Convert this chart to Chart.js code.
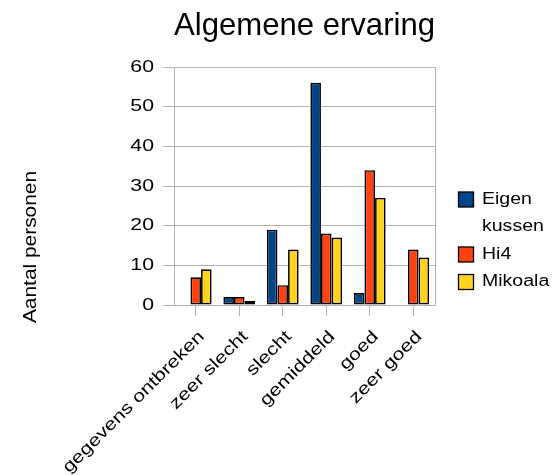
<!DOCTYPE html>
<html>
<head>
<meta charset="utf-8">
<script src="https://cdn.jsdelivr.net/npm/chart.js@4/dist/chart.umd.min.js"></script>
<style>
  html, body { margin: 0; padding: 0; background: #ffffff; }
  #wrap { width: 555px; height: 475px; }
</style>
</head>
<body>
<div id="wrap"><canvas id="chart" width="555" height="475"></canvas></div>
<script>
// Survey answers: overall experience per pillow
const categories = ['gegevens ontbreken', 'zeer slecht', 'slecht', 'gemiddeld', 'goed', 'zeer goed'];
const eigenKussen = [0, 2, 19, 56, 3, 0];
const hi4 = [7, 2, 5, 18, 34, 14];
const mikoala = [9, 1, 14, 17, 27, 12];
const seriesNames = ['Eigen kussen', 'Hi4', 'Mikoala'];
const legendLines = [['Eigen', 'kussen'], ['Hi4'], ['Mikoala']];
const yMin = 0, yMax = 60, yStep = 10;
const chartTitle = 'Algemene ervaring';
const yTitle = 'Aantal personen';

const colors = ['#004586', '#ff420e', '#ffd320'];
const GRID = '#b3b3b3';
const FONT = '"Liberation Sans", Arial, Helvetica, sans-serif';

// Draws text widened along its own direction
function wideText(ctx, text, x, y, angle, stretch, align) {
  ctx.save();
  ctx.translate(x, y);
  ctx.rotate(angle);
  ctx.scale(stretch, 1);
  ctx.textAlign = align;
  ctx.textBaseline = 'middle';
  ctx.fillText(text, 0, 0);
  ctx.restore();
}

// Right-hand frame line of the plot area
const plotFrame = {
  id: 'plotFrame',
  beforeDatasetsDraw(chart) {
    const { ctx, chartArea } = chart;
    ctx.save();
    ctx.strokeStyle = GRID;
    ctx.lineWidth = 1;
    ctx.beginPath();
    const x = Math.round(chartArea.right) + 0.5;
    ctx.moveTo(x, chartArea.top);
    ctx.lineTo(x, chartArea.bottom);
    ctx.stroke();
    ctx.restore();
  }
};

// Tick labels, axis title and legend lettering
const lettering = {
  id: 'lettering',
  afterDraw(chart) {
    const ctx = chart.ctx;
    const xs = chart.scales.x, ys = chart.scales.y;
    const ca = chart.chartArea;
    ctx.save();
    ctx.fillStyle = '#000';

    // value axis labels
    ctx.font = '17px ' + FONT;
    ys.ticks.forEach(t => {
      wideText(ctx, String(t.value), ys.right - 20, ys.getPixelForValue(t.value), 0, 1.25, 'right');
    });

    // category labels, slanted
    xs.ticks.forEach((t, i) => {
      const px = xs.getPixelForTick(i);
      wideText(ctx, xs.getLabelForValue(t.value), px + 6, ca.bottom + 29, -Math.PI / 4, 1.25, 'right');
    });

    // value axis title
    ctx.font = '19px ' + FONT;
    wideText(ctx, yTitle, 31, 247, -Math.PI / 2, 1.1, 'center');

    // legend
    ctx.font = '16px ' + FONT;
    const boxX = ca.right + 23.5;
    const textX = ca.right + 47;
    const lineStep = 27.5;
    let lineY = 199.5;
    legendLines.forEach((lines, s) => {
      ctx.fillStyle = colors[s];
      ctx.fillRect(boxX, lineY - 7.5, 15, 15);
      ctx.strokeStyle = '#000';
      ctx.lineWidth = 1.3;
      ctx.strokeRect(boxX, lineY - 7.5, 15, 15);
      ctx.fillStyle = '#000';
      lines.forEach(line => {
        wideText(ctx, line, textX, lineY, 0, 1.22, 'left');
        lineY += lineStep;
      });
    });
    ctx.restore();
  }
};

const seriesValues = [eigenKussen, hi4, mikoala];

new Chart(document.getElementById('chart'), {
  type: 'bar',
  data: {
    labels: categories,
    datasets: seriesNames.map((name, i) => ({
      label: name,
      data: seriesValues[i],
      backgroundColor: colors[i],
      borderColor: '#000',
      borderWidth: 1.7,
      borderSkipped: false,
      categoryPercentage: 0.73,
      barPercentage: 1.0
    }))
  },
  options: {
    responsive: false,
    animation: false,
    devicePixelRatio: 1,
    layout: { padding: { left: 0, right: 120, top: 0, bottom: 0 } },
    plugins: {
      legend: { display: false },
      tooltip: { enabled: false },
      title: {
        display: true,
        text: chartTitle,
        color: '#000',
        fullSize: false,
        font: { family: FONT, size: 32, weight: 'normal', lineHeight: 1.2 },
        padding: { top: 7, bottom: 21.6 }
      }
    },
    scales: {
      x: {
        offset: true,
        grid: { display: true, drawOnChartArea: false, drawTicks: true, tickLength: 11, offset: false, color: GRID, lineWidth: 1 },
        border: { display: true, color: GRID, width: 1 },
        ticks: { display: false },
        afterFit(scale) { scale.height = 170; }
      },
      y: {
        min: yMin,
        max: yMax,
        ticks: { display: false, stepSize: yStep },
        grid: { color: GRID, lineWidth: 1, drawTicks: true, tickLength: 11 },
        border: { display: true, color: GRID, width: 1 },
        afterFit(scale) { scale.width = 174; }
      }
    }
  },
  plugins: [plotFrame, lettering]
});
</script>
</body>
</html>
